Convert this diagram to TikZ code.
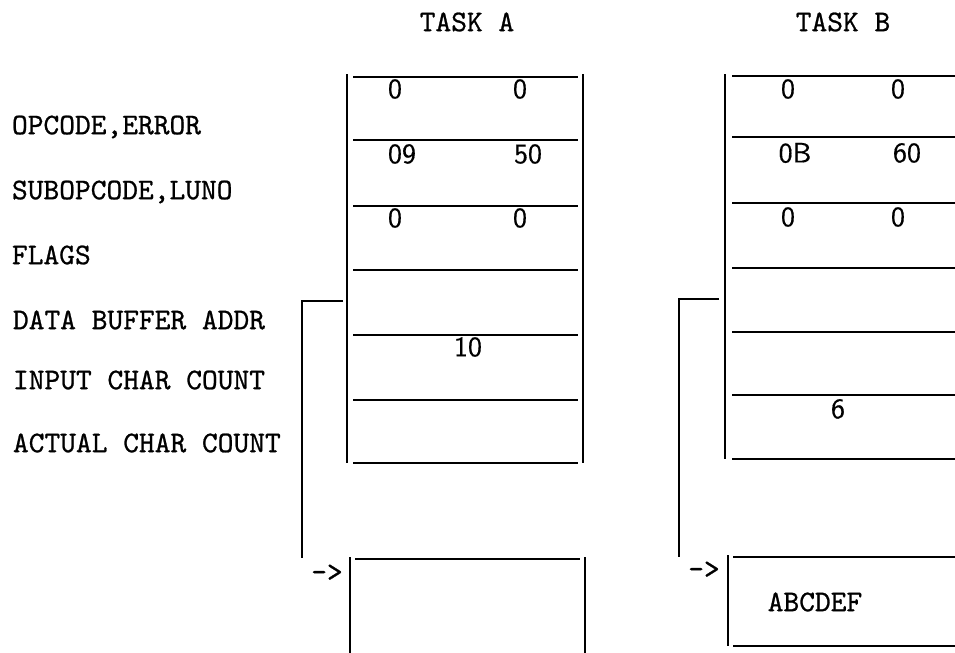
\documentclass[tikz,border=0pt]{standalone}
\usepackage{fontspec}
\newfontfamily\typw{lmmono10-regular.otf}[FakeBold=0.8]
\newfontfamily\digw{lmsans10-regular.otf}[FakeBold=0.5]
\begin{document}
\begin{tikzpicture}[x=0.5pt,y=-0.5pt, line width=1pt,
  lbl/.style={font=\fontsize{15}{18}\selectfont\typw, anchor=west, inner sep=0pt},
  ttl/.style={font=\fontsize{15}{18}\selectfont\typw, inner sep=0pt},
  val/.style={font=\fontsize{14}{17}\selectfont\digw, inner sep=0pt},
  rule/.style={line width=1.1pt}]
\useasboundingbox (0,0) rectangle (955,653);

% titles
\node[ttl] (ta) at (467,22) {TASK A};
\node[ttl] (tb) at (843,22) {TASK B};

% field labels
\node[lbl] (l1) at (11,127) {OPCODE,ERROR};
\node[lbl] (l2) at (11,192) {SUBOPCODE,LUNO};
\node[lbl] (l3) at (11,255) {FLAGS};
\node[lbl] (l4) at (12,320) {DATA BUFFER ADDR};
\node[lbl] (l5) at (12,380) {INPUT CHAR COUNT};
\node[lbl] (l6) at (12,443) {ACTUAL CHAR COUNT};

% ---------- Task A call block ----------
\draw[rule] (347,74) -- (347,463);
\draw[rule] (583,74) -- (583,463);
\foreach \yy in {77,140,206,270,335,400,463}
  \draw[rule] (353,\yy) -- (578,\yy);
\node[val] (a1) at (395,89) {0};
\node[val] (a2) at (520,89) {0};
\node[val] (a3) at (402,154) {09};
\node[val] (a4) at (528,154) {50};
\node[val] (a5) at (395,218) {0};
\node[val] (a6) at (520,218) {0};
\node[val] (a7) at (468,347) {10};

% Task A buffer
\draw[rule] (350,557) -- (350,653);
\draw[rule] (585,557) -- (585,653);
\draw[rule] (355,559) -- (580,559);
\node[ttl] (arA) at (327,573) {->};
\coordinate (pA) at (343,301);
\draw[rule] (pA) -- (302,301) -- (302,558);

% ---------- Task B call block ----------
\draw[rule] (725,74) -- (725,459);
\foreach \yy in {76,137,203,268,332,395,459}
  \draw[rule] (732,\yy) -- (955,\yy);
\node[val] (b1) at (788,89) {0};
\node[val] (b2) at (898,89) {0};
\node[val] (b3) at (795,153) {0B};
\node[val] (b4) at (907,153) {60};
\node[val] (b5) at (788,217) {0};
\node[val] (b6) at (898,217) {0};
\node[val] (b7) at (838,409) {6};

% Task B buffer
\draw[rule] (728,555) -- (728,646);
\draw[rule] (733,557) -- (955,557);
\draw[rule] (733,646) -- (955,646);
\node[ttl] (arB) at (704,570) {->};
\node[ttl] (buf) at (815,602) {ABCDEF};
\coordinate (pB) at (719,299);
\draw[rule] (pB) -- (679,299) -- (679,557);
\end{tikzpicture}
\end{document}
